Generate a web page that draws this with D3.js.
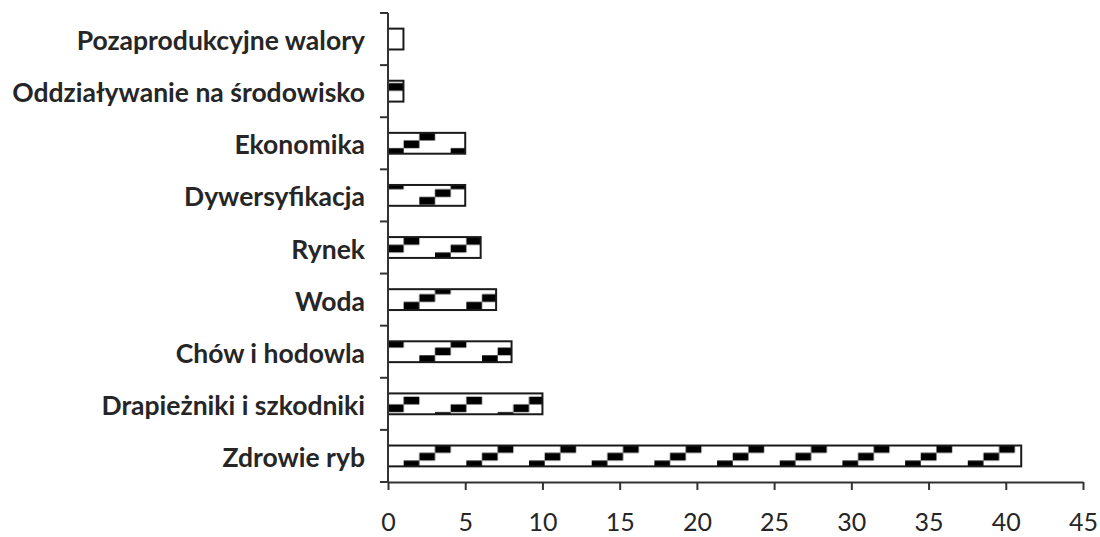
<!DOCTYPE html>
<html>
<head>
<meta charset="utf-8">
<script src="https://cdn.jsdelivr.net/npm/d3@7"></script>
<style>
  html, body { margin: 0; padding: 0; background: #fff; }
  svg { display: block; }
</style>
</head>
<body>
<svg id="chart" width="1100" height="537"></svg>
<script>
// ---- data ----
const categories = [
  "Pozaprodukcyjne walory",
  "Oddziaływanie na środowisko",
  "Ekonomika",
  "Dywersyfikacja",
  "Rynek",
  "Woda",
  "Chów i hodowla",
  "Drapieżniki i szkodniki",
  "Zdrowie ryb"
];
const values = [1, 1, 5, 5, 6, 7, 8, 10, 41];
const xTicks = [0, 5, 10, 15, 20, 25, 30, 35, 40, 45];

// ---- style: per-bar pattern phase (column of lowest dash, offset of lowest dash row) ----
const patternCol = [1, 2, 0, 2, 3, 1, 2, 3, 1];
const patternRowOffset = [15, 17.7, 15.3, 12, 15.4, 12.7, 14, 18.7, 15];

const svg = d3.select("#chart");
const plotLeft = 388, plotRight = 1083, plotTop = 13, plotBottom = 482;
const textColor = "#262626";
const axisColor = "#333";

const x = d3.scaleLinear().domain([0, 45]).range([plotLeft, plotRight]);
const y = d3.scaleBand().domain(categories).range([plotTop, plotBottom])
  .paddingInner(0.6).paddingOuter(0.3);

// ---- patterns ----
const cw = 15.67, rh = 7.7;
const defs = svg.append("defs");
const pats = defs.selectAll("pattern").data(categories).join("pattern")
  .attr("id", (d, i) => "pat" + i)
  .attr("patternUnits", "userSpaceOnUse")
  .attr("width", cw * 4).attr("height", rh * 4)
  .attr("x", (d, i) => x(0) + patternCol[i] * cw)
  .attr("y", (d, i) => y(d) + patternRowOffset[i] - 3 * rh);
pats.append("rect").attr("width", cw * 4).attr("height", rh * 4).attr("fill", "#fff");
[[0, 3], [1, 2], [2, 1]].forEach(([c, r]) => {
  pats.append("rect").attr("x", c * cw).attr("y", r * rh)
    .attr("width", cw).attr("height", rh).attr("fill", "#000");
});

// ---- bars ----
svg.append("g").selectAll("rect").data(categories).join("rect")
  .attr("x", x(0))
  .attr("y", d => y(d))
  .attr("width", (d, i) => x(values[i]) - x(0))
  .attr("height", y.bandwidth())
  .attr("fill", (d, i) => `url(#pat${i})`)
  .attr("stroke", "#1a1a1a")
  .attr("stroke-width", 2);

// ---- x axis ----
const xAxis = svg.append("g").attr("transform", `translate(0,${plotBottom})`)
  .call(d3.axisBottom(x).tickValues(xTicks).tickSize(8).tickSizeOuter(0).tickPadding(24));
xAxis.select(".domain").attr("stroke", axisColor).attr("stroke-width", 2);
xAxis.selectAll(".tick line").attr("stroke", axisColor).attr("stroke-width", 2);
xAxis.selectAll(".tick text")
  .attr("fill", textColor)
  .attr("font-family", "Lato, 'Open Sans', sans-serif")
  .attr("font-size", 25)
  .attr("dy", "0.68em");

// ---- y axis (line + ticks at band boundaries) ----
const yg = svg.append("g");
yg.append("line").attr("x1", plotLeft).attr("x2", plotLeft).attr("y1", plotTop).attr("y2", plotBottom)
  .attr("stroke", axisColor).attr("stroke-width", 2);
const step = y.step();
const boundaries = d3.range(categories.length + 1).map(i => plotTop + i * step);
yg.selectAll("line.tk").data(boundaries).join("line").attr("class", "tk")
  .attr("x1", plotLeft - 8).attr("x2", plotLeft)
  .attr("y1", d => d).attr("y2", d => d)
  .attr("stroke", axisColor).attr("stroke-width", 2);

yg.selectAll("text").data(categories).join("text")
  .attr("x", 365)
  .attr("y", d => y(d) + y.bandwidth() / 2 + 11)
  .attr("text-anchor", "end")
  .attr("fill", textColor)
  .attr("font-family", "Lato, 'Open Sans', sans-serif")
  .attr("font-weight", "bold")
  .attr("font-size", 26.5)
  .text(d => d);
</script>
</body>
</html>
